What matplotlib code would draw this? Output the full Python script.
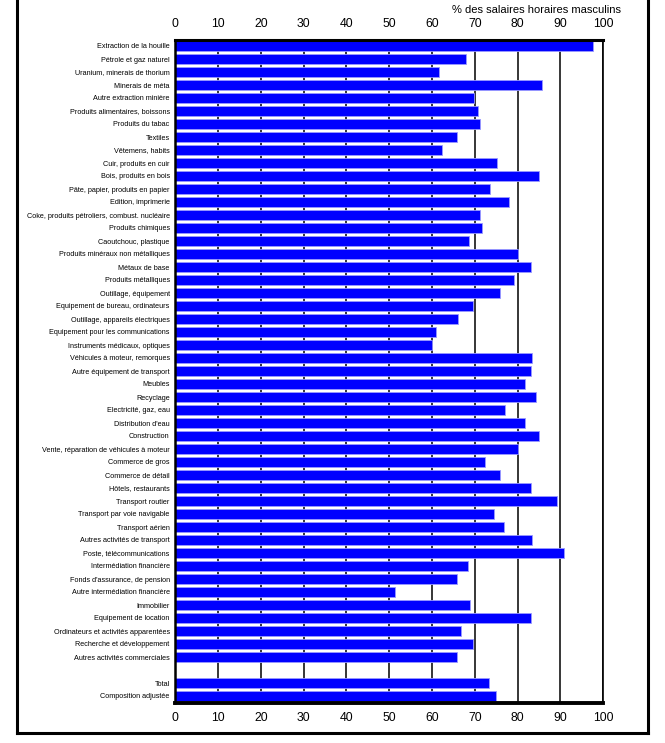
import numpy as np
import matplotlib
matplotlib.use("Agg")
import matplotlib.pyplot as plt
from matplotlib.lines import Line2D

plt.rcParams['font.family'] = ['Liberation Sans', 'DejaVu Sans']

# industries, top to bottom
secteurs = [
    "Extraction de la houille", "Pétrole et gaz naturel", "Uranium, minerais de thorium",
    "Minerais de méta", "Autre extraction minière", "Produits alimentaires, boissons",
    "Produits du tabac", "Textiles", "Vêtemens, habits", "Cuir, produits en cuir",
    "Bois, produits en bois", "Pâte, papier, produits en papier", "Edition, imprimerie",
    "Coke, produits pétroliers, combust. nucléaire", "Produits chimiques",
    "Caoutchouc, plastique", "Produits minéraux non métalliques", "Métaux de base",
    "Produits métalliques", "Outillage, équipement", "Equipement de bureau, ordinateurs",
    "Outillage, appareils électriques", "Equipement pour les communications",
    "Instruments médicaux, optiques", "Véhicules à moteur, remorques",
    "Autre équipement de transport", "Meubles", "Recyclage", "Electricité, gaz, eau",
    "Distribution d'eau", "Construction", "Vente, réparation de véhicules à moteur",
    "Commerce de gros", "Commerce de détail", "Hôtels, restaurants", "Transport routier",
    "Transport par voie navigable", "Transport aérien", "Autres activités de transport",
    "Poste, télécommunications", "Intermédiation financière",
    "Fonds d'assurance, de pension", "Autre intermédiation financière", "Immobilier",
    "Equipement de location", "Ordinateurs et activités apparentées",
    "Recherche et développement", "Autres activités commerciales",
]
valeurs = [
    97.5, 67.9, 61.6, 85.7, 69.8, 70.7, 71.2, 65.9, 62.3, 75.2,
    85.0, 73.6, 78.0, 71.2, 71.7, 68.6, 80.0, 83.0, 79.2, 75.9,
    69.6, 66.1, 60.9, 60.0, 83.4, 83.1, 81.7, 84.3, 77.1, 81.7,
    85.0, 80.1, 72.4, 75.9, 83.0, 89.2, 74.5, 76.8, 83.4, 90.8,
    68.4, 65.8, 51.4, 68.9, 83.0, 66.8, 69.6, 65.8,
]
totaux = ["Total", "Composition adjustée"]
valeurs_totaux = [73.3, 75.0]
xticks = [0, 10, 20, 30, 40, 50, 60, 70, 80, 90, 100]

labels = secteurs + totaux
vals = valeurs + valeurs_totaux
# one empty row before the totals
pos = list(range(len(secteurs))) + [len(secteurs) + 1 + i for i in range(len(totaux))]

fig = plt.figure(figsize=(6.65, 7.43), dpi=100)
ax = fig.add_axes([175.2 / 665, 40.5 / 743, 428.1 / 665, 663 / 743])

for x in xticks[1:]:
    ax.axvline(x, color="black", lw=1.1, zorder=1)
ax.barh(pos, vals, height=0.84, color="#0000ff", edgecolor="#9a9aff",
        linewidth=0.6, zorder=2)

ax.set_xlim(0, 100)
ax.set_ylim(pos[-1] + 0.5, -0.5)
ax.set_yticks(pos)
ax.set_yticklabels(labels, fontsize=5.2)
ax.set_xticks(xticks)
ax.tick_params(axis="x", length=0, labelsize=8.8, pad=7, labeltop=True, labelbottom=True)
ax.tick_params(axis="y", length=0, pad=4)

ax.spines["top"].set_linewidth(2.2)
ax.spines["bottom"].set_linewidth(2.8)
ax.spines["left"].set_linewidth(1.8)
ax.spines["right"].set_linewidth(1.2)

fig.text(621 / 665, 1 - 10 / 743, "% des salaires horaires masculins",
         ha="right", va="center", fontsize=8)

# outer frame (top is cut off)
fl = 17 / 665
fr = 648 / 665
fb = 1 - 733 / 743
for xs, ys in [([fl, fl], [fb, 1.0]), ([fr, fr], [fb, 1.0]), ([fl, fr], [fb, fb])]:
    fig.add_artist(Line2D(xs, ys, color="black", lw=2.2, transform=fig.transFigure))

fig.savefig("out.png", dpi=100)
